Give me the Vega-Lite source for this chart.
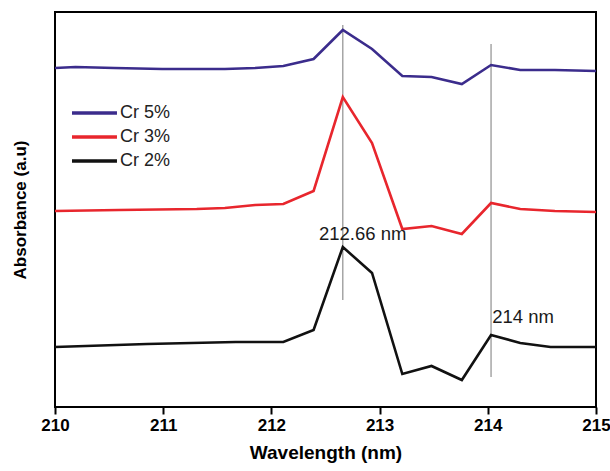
{
  "$schema": "https://vega.github.io/schema/vega-lite/v6.json",
  "width": 541,
  "height": 395,
  "autosize": {"type": "none"},
  "padding": {"left": 55, "top": 12, "right": 14, "bottom": 64},
  "background": "white",
  "config": {
    "view": {"stroke": "black", "strokeWidth": 2},
    "font": "Liberation Sans"
  },
  "datasets": {
    "spectra": [
      {"x": 210.00, "y": 3.39, "s": "Cr 5%"},
      {"x": 210.19, "y": 3.40, "s": "Cr 5%"},
      {"x": 210.55, "y": 3.39, "s": "Cr 5%"},
      {"x": 210.99, "y": 3.38, "s": "Cr 5%"},
      {"x": 211.57, "y": 3.38, "s": "Cr 5%"},
      {"x": 211.85, "y": 3.39, "s": "Cr 5%"},
      {"x": 212.11, "y": 3.41, "s": "Cr 5%"},
      {"x": 212.39, "y": 3.48, "s": "Cr 5%"},
      {"x": 212.66, "y": 3.77, "s": "Cr 5%"},
      {"x": 212.93, "y": 3.58, "s": "Cr 5%"},
      {"x": 213.21, "y": 3.31, "s": "Cr 5%"},
      {"x": 213.48, "y": 3.30, "s": "Cr 5%"},
      {"x": 213.76, "y": 3.23, "s": "Cr 5%"},
      {"x": 214.03, "y": 3.42, "s": "Cr 5%"},
      {"x": 214.30, "y": 3.37, "s": "Cr 5%"},
      {"x": 214.62, "y": 3.37, "s": "Cr 5%"},
      {"x": 215.00, "y": 3.36, "s": "Cr 5%"},
      {"x": 210.00, "y": 1.96, "s": "Cr 3%"},
      {"x": 210.59, "y": 1.97, "s": "Cr 3%"},
      {"x": 211.31, "y": 1.98, "s": "Cr 3%"},
      {"x": 211.57, "y": 1.99, "s": "Cr 3%"},
      {"x": 211.85, "y": 2.02, "s": "Cr 3%"},
      {"x": 212.11, "y": 2.03, "s": "Cr 3%"},
      {"x": 212.39, "y": 2.16, "s": "Cr 3%"},
      {"x": 212.66, "y": 3.10, "s": "Cr 3%"},
      {"x": 212.93, "y": 2.64, "s": "Cr 3%"},
      {"x": 213.21, "y": 1.78, "s": "Cr 3%"},
      {"x": 213.48, "y": 1.81, "s": "Cr 3%"},
      {"x": 213.76, "y": 1.73, "s": "Cr 3%"},
      {"x": 214.03, "y": 2.04, "s": "Cr 3%"},
      {"x": 214.30, "y": 1.98, "s": "Cr 3%"},
      {"x": 214.62, "y": 1.96, "s": "Cr 3%"},
      {"x": 215.00, "y": 1.95, "s": "Cr 3%"},
      {"x": 210.00, "y": 0.60, "s": "Cr 2%"},
      {"x": 210.85, "y": 0.63, "s": "Cr 2%"},
      {"x": 211.67, "y": 0.65, "s": "Cr 2%"},
      {"x": 212.11, "y": 0.65, "s": "Cr 2%"},
      {"x": 212.39, "y": 0.77, "s": "Cr 2%"},
      {"x": 212.66, "y": 1.60, "s": "Cr 2%"},
      {"x": 212.93, "y": 1.34, "s": "Cr 2%"},
      {"x": 213.21, "y": 0.33, "s": "Cr 2%"},
      {"x": 213.48, "y": 0.41, "s": "Cr 2%"},
      {"x": 213.76, "y": 0.27, "s": "Cr 2%"},
      {"x": 214.03, "y": 0.72, "s": "Cr 2%"},
      {"x": 214.30, "y": 0.64, "s": "Cr 2%"},
      {"x": 214.58, "y": 0.60, "s": "Cr 2%"},
      {"x": 215.00, "y": 0.60, "s": "Cr 2%"}
    ],
    "markers": [
      {"x": 212.66, "y1": 3.82, "y2": 1.07},
      {"x": 214.03, "y1": 3.63, "y2": 0.30}
    ],
    "labels": [
      {"x": 212.44, "y": 1.73, "t": "212.66 nm"},
      {"x": 214.04, "y": 0.90, "t": "214 nm"}
    ]
  },
  "layer": [
    {
      "data": {"name": "markers"},
      "mark": {"type": "rule", "color": "#8f8f8f", "strokeWidth": 1.2},
      "encoding": {
        "x": {"field": "x", "type": "quantitative"},
        "y": {"field": "y1", "type": "quantitative"},
        "y2": {"field": "y2"}
      }
    },
    {
      "data": {"name": "spectra"},
      "mark": {"type": "line", "strokeWidth": 2.6, "strokeJoin": "miter", "clip": true},
      "encoding": {
        "x": {
          "field": "x", "type": "quantitative",
          "scale": {"domain": [210, 215], "nice": false, "zero": false},
          "axis": {
            "title": "Wavelength (nm)",
            "values": [210, 211, 212, 213, 214, 215],
            "format": "d",
            "grid": false,
            "domain": false,
            "tickColor": "black", "tickWidth": 2, "tickSize": 7,
            "labelFont": "Liberation Sans", "labelFontSize": 17, "labelFontWeight": "bold", "labelColor": "black",
            "labelPadding": 3,
            "labelFlush": false,
            "titleFont": "Liberation Sans", "titleFontSize": 19, "titleFontWeight": "bold", "titleColor": "black",
            "titlePadding": 10
          }
        },
        "y": {
          "field": "y", "type": "quantitative",
          "scale": {"domain": [0, 3.95], "nice": false},
          "axis": {
            "title": "Absorbance (a.u)",
            "labels": false, "ticks": false, "grid": false, "domain": false,
            "titleFont": "Liberation Sans", "titleFontSize": 17, "titleFontWeight": "bold", "titleColor": "black",
            "titlePadding": 26
          }
        },
        "color": {
          "field": "s", "type": "nominal",
          "scale": {"domain": ["Cr 5%", "Cr 3%", "Cr 2%"], "range": ["#3b2c8c", "#e8262d", "#111111"]},
          "legend": {
            "title": null,
            "orient": "none",
            "legendX": 15,
            "legendY": 86,
            "symbolType": "M-1,0L2.46,0",
            "symbolSize": 676,
            "symbolStrokeWidth": 3.5,
            "labelFont": "Liberation Sans",
            "labelFontSize": 18,
            "labelColor": "#222222",
            "labelOffset": 20,
            "rowPadding": 0,
            "padding": 0
          }
        }
      }
    },
    {
      "data": {"name": "labels"},
      "mark": {"type": "text", "align": "left", "baseline": "middle", "fontSize": 18.5, "font": "Liberation Sans", "color": "#1a1a1a"},
      "encoding": {
        "x": {"field": "x", "type": "quantitative"},
        "y": {"field": "y", "type": "quantitative"},
        "text": {"field": "t"}
      }
    }
  ]
}
